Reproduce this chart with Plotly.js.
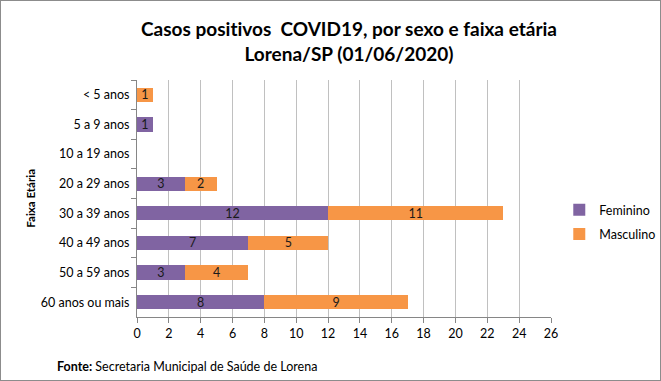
<!DOCTYPE html>
<html>
<head>
<meta charset="utf-8">
<script src="https://cdn.plot.ly/plotly-3.0.1.min.js"></script>
<style>
html,body{margin:0;padding:0;background:#fff;}
#wrap{position:relative;width:661px;height:381px;}
#chart{width:661px;height:381px;}
#frame{position:absolute;left:0;top:0;width:659px;height:379px;border:1px solid #8c8c8c;pointer-events:none;}
svg text{font-variant-ligatures:none;font-feature-settings:"liga" 0;}
</style>
</head>
<body>
<div id="wrap"><div id="chart"></div><div id="frame"></div></div>
<script>
const categories = ["< 5 anos","5 a 9 anos","10 a 19 anos","20 a 29 anos","30 a 39 anos","40 a 49 anos","50 a 59 anos","60 anos ou mais"];
const feminino = [null,1,null,3,12,7,3,8];
const masculino = [1,null,null,2,11,5,4,9];
const xTicks = [0,2,4,6,8,10,12,14,16,18,20,22,24,26];

const FONT = "Lato, 'Open Sans', sans-serif";
const txtFont = {family: FONT, size: 12.5, color: "#1a1a1a"};

const traces = [
  {type:"bar", orientation:"h", name:"Feminino", y:categories, x:feminino,
   marker:{color:"#8064A2"}, text:feminino.map(v=>v==null?"":String(v)),
   textposition:"inside", insidetextanchor:"middle", textangle:0, constraintext:"none",
   insidetextfont:txtFont, legendgroup:"f", hoverinfo:"x+name"},
  {type:"bar", orientation:"h", name:"Masculino", y:categories, x:masculino,
   marker:{color:"#F79646"}, text:masculino.map(v=>v==null?"":String(v)),
   textposition:"inside", insidetextanchor:"middle", textangle:0, constraintext:"none",
   insidetextfont:txtFont, legendgroup:"m", hoverinfo:"x+name"}
];

const layout = {
  width:661, height:381,
  margin:{l:137, r:110, t:80, b:64, autoexpand:false},
  paper_bgcolor:"#fff", plot_bgcolor:"#fff",
  barmode:"stack", bargap:0.52,
  font:{family:FONT, size:12.5, color:"#000"},
  title:{text:"<b>Casos positivos  COVID19, por sexo e faixa etária<br>Lorena/SP (01/06/2020)</b>",
         font:{family:FONT, size:19, color:"#000"}, x:0.528, xanchor:"center", y:0.905, yanchor:"middle", yref:"container"},
  xaxis:{range:[0,26], tickvals:xTicks, ticktext:xTicks.map(String), showgrid:true, gridcolor:"#c0c0c0", gridwidth:1,
         zeroline:false, showline:true, linecolor:"#868686", ticks:"outside", ticklen:5, tickcolor:"#868686",
         tickfont:{family:FONT, size:12.5, color:"#000"}, ticklabelstandoff:0, fixedrange:true, automargin:false},
  yaxis:{type:"category", categoryorder:"array", categoryarray:categories, autorange:"reversed",
         showline:true, linecolor:"#868686", ticks:"outside", ticklen:5, tickcolor:"#868686", tickson:"boundaries",
         showgrid:false, tickfont:{family:FONT, size:12.5, color:"#000"}, ticklabelstandoff:4, fixedrange:true, automargin:false},
  legend:{x:1.02, xanchor:"left", y:0.40, yanchor:"middle", traceorder:"grouped", tracegroupgap:5,
          font:{family:FONT, size:12.5, color:"#000"}, itemwidth:30, bgcolor:"rgba(0,0,0,0)"},
  showlegend:true,
  annotations:[
    {text:"<b>Faixa Etária</b>", xref:"paper", yref:"paper", x:-0.258, y:0.5, textangle:-90,
     showarrow:false, font:{family:FONT, size:11.5, color:"#000"}, xanchor:"center", yanchor:"middle"},
    {text:"<b>Fonte:</b> Secretaria Municipal de Saúde de Lorena", xref:"paper", yref:"paper",
     x:-0.198, y:-0.2076, xanchor:"left", yanchor:"middle", showarrow:false,
     font:{family:FONT, size:12.5, color:"#000"}}
  ]
};

Plotly.newPlot("chart", traces, layout, {displayModeBar:false, staticPlot:true});
</script>
</body>
</html>
